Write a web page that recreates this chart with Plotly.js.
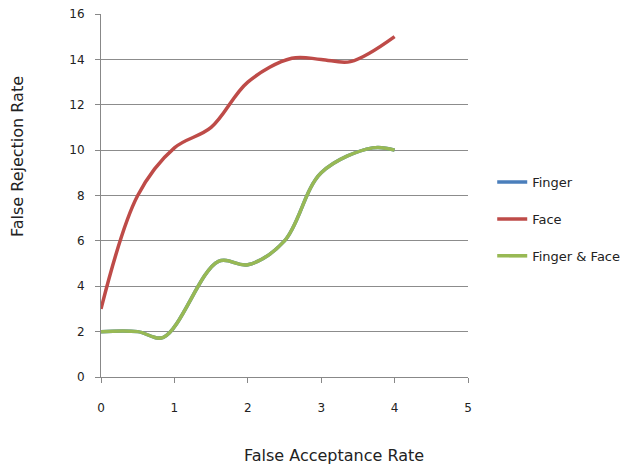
<!DOCTYPE html>
<html><head><meta charset="utf-8">
<script src="https://cdn.plot.ly/plotly-3.0.1.min.js"></script>
<style>html,body{margin:0;padding:0;background:#fff}#c{width:624px;height:468px}</style>
</head><body><div id="c"></div>
<script>
var seriesNames = ["Finger", "Face", "Finger & Face"];
var faceX = [0, 0.5, 1, 1.5, 2, 2.6, 3, 3.4, 4];
var faceY = [3, 8, 10.1, 11, 13, 14.05, 14, 13.9, 15];
var comboX = [0, 0.5, 0.85, 1.6, 2, 2.5, 3, 3.7, 4];
var comboY = [2, 2, 1.75, 5.1, 4.95, 6, 9, 10.1, 10];
var fingerX = comboX;
var fingerY = comboY;
var xTicks = [0, 1, 2, 3, 4, 5];
var yTicks = [0, 2, 4, 6, 8, 10, 12, 14, 16];
var colors = ["#4A7EBB", "#BE4B48", "#98B954"];

var font = "Tahoma, 'DejaVu Sans', sans-serif";
var data = [
  {x: fingerX, y: fingerY, name: seriesNames[0], legendgroup: "a"},
  {x: faceX, y: faceY, name: seriesNames[1], legendgroup: "b"},
  {x: comboX, y: comboY, name: seriesNames[2], legendgroup: "c"}
].map(function(t, i){
  t.type = "scatter"; t.mode = "lines";
  t.line = {color: colors[i], width: 3.5, shape: "spline", smoothing: 1};
  return t;
});

var layout = {
  width: 624, height: 468,
  margin: {l: 101, r: 156, t: 14, b: 91, autoexpand: false},
  paper_bgcolor: "#fff", plot_bgcolor: "#fff",
  showlegend: true,
  legend: {x: 1.066, y: 0.435, xanchor: "left", yanchor: "middle",
    font: {family: font, size: 13, color: "#222"}, tracegroupgap: 17,
    traceorder: "grouped", itemwidth: 30},
  xaxis: {range: [0, 5], tickvals: xTicks, showgrid: false, zeroline: false,
    showline: true, linecolor: "#888", linewidth: 1, ticks: "outside",
    ticklen: 5, tickcolor: "#888", ticklabelstandoff: 15,
    tickfont: {family: font, size: 12, color: "#222"}, fixedrange: true},
  yaxis: {range: [0, 16], tickvals: yTicks, showgrid: true, gridcolor: "#8c8c8c",
    gridwidth: 1, zeroline: false, showline: true, linecolor: "#888", linewidth: 1,
    ticks: "outside", ticklen: 5, tickcolor: "#888", ticklabelstandoff: 8,
    tickfont: {family: font, size: 12, color: "#222"}, fixedrange: true},
  annotations: [
    {text: "False Acceptance Rate", xref: "paper", yref: "paper",
     x: (334 - 101) / 367, y: (377 - 455) / 363, xanchor: "center", yanchor: "middle",
     showarrow: false, font: {family: font, size: 16, color: "#222"}},
    {text: "False Rejection Rate", xref: "paper", yref: "paper", textangle: -90,
     x: (17 - 101) / 367, y: (377 - 157) / 363, xanchor: "center", yanchor: "middle",
     showarrow: false, font: {family: "'DejaVu Sans', sans-serif", size: 16, color: "#222"}}
  ]
};
Plotly.newPlot("c", data, layout, {staticPlot: true});
</script></body></html>
